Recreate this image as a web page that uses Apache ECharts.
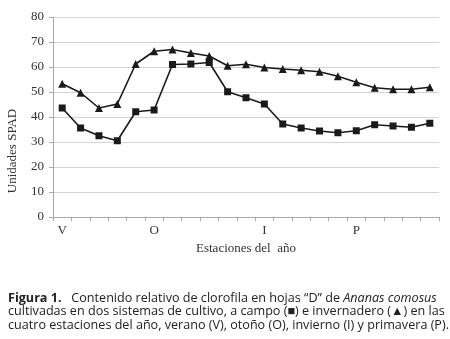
<!DOCTYPE html>
<html>
<head>
<meta charset="utf-8">
<script src="https://cdn.jsdelivr.net/npm/echarts@6/dist/echarts.min.js"></script>
<style>
  html, body { margin: 0; padding: 0; background: #fff; }
  #chart { width: 450px; height: 339px; }
</style>
</head>
<body>
<div id="chart"></div>
<script>
// 21 muestreos a lo largo del año; solo se rotula el inicio de cada estación
const seasons = ['V', '', '', '', '', 'O', '', '', '', '', '', 'I', '', '', '', '', 'P', '', '', '', ''];
// a campo (cuadrados)
const campo = [43.6, 35.6, 32.5, 30.5, 42.1, 42.8, 61.0, 61.2, 61.8, 50.1, 47.7, 45.2, 37.2, 35.6, 34.4, 33.7, 34.5, 36.9, 36.4, 35.9, 37.5];
// invernadero (triangulos)
const invernadero = [53.3, 49.7, 43.6, 45.2, 61.2, 66.3, 67.0, 65.6, 64.4, 60.5, 61.1, 59.8, 59.2, 58.7, 58.1, 56.3, 53.9, 51.7, 51.1, 51.1, 51.9];
const yTicks = [0, 80, 10];

const chart = echarts.init(document.getElementById('chart'));
const serif = 'Liberation Serif';
const sans = 'Open Sans';
const capSize = 12.6;
const capStyle = { fontFamily: sans, fontSize: capSize, fill: '#222', verticalAlign: 'middle' };

const option = {
    animation: false,
    grid: { left: 53, right: 11, top: 17, bottom: 122 },
    xAxis: {
        type: 'category',
        data: seasons,
        boundaryGap: true,
        name: 'Estaciones del  año',
        nameLocation: 'middle',
        nameGap: 24,
        nameTextStyle: { fontFamily: serif, fontSize: 13, color: '#333' },
        axisLine: { lineStyle: { color: '#aaa' } },
        axisTick: { show: true, interval: 0, length: 4, lineStyle: { color: '#aaa' } },
        axisLabel: { interval: 0, fontFamily: serif, fontSize: 13, color: '#333', margin: 7 },
        splitLine: { show: false }
    },
    yAxis: {
        type: 'value',
        min: yTicks[0],
        max: yTicks[1],
        interval: yTicks[2],
        axisLine: { show: true, lineStyle: { color: '#aaa' } },
        axisTick: { show: true, length: 4, lineStyle: { color: '#aaa' } },
        axisLabel: { fontFamily: serif, fontSize: 13, color: '#333', margin: 9 },
        splitLine: { lineStyle: { color: '#d4d4d4', width: 1 } }
    },
    series: [
        {
            name: 'invernadero',
            type: 'line',
            data: invernadero,
            symbol: 'triangle',
            symbolSize: 8,
            showAllSymbol: true,
            lineStyle: { color: '#1a1a1a', width: 1.6 },
            itemStyle: { color: '#1a1a1a' }
        },
        {
            name: 'campo',
            type: 'line',
            data: campo,
            symbol: 'rect',
            symbolSize: 7,
            showAllSymbol: true,
            lineStyle: { color: '#1a1a1a', width: 1.6 },
            itemStyle: { color: '#1a1a1a' }
        }
    ],
    graphic: [
        {
            type: 'text',
            x: 13, y: 151,
            rotation: Math.PI / 2,
            style: {
                text: 'Unidades SPAD',
                fontFamily: serif, fontSize: 13, fill: '#333',
                align: 'center', verticalAlign: 'middle'
            }
        },
        {
            type: 'text',
            x: 8, y: 298,
            style: {
                text: '{b|Figura 1.}   Contenido relativo de clorofila en hojas “D” de {i|Ananas comosus}',
                ...capStyle,
                rich: {
                    b: { fontFamily: sans, fontSize: capSize, fontWeight: 'bold', fill: '#222' },
                    i: { fontFamily: sans, fontSize: capSize, fontStyle: 'italic', fill: '#222' }
                }
            }
        },
        {
            type: 'text',
            x: 8, y: 311.5,
            style: { text: 'cultivadas en dos sistemas de cultivo, a campo (■) e invernadero (▲) en las', ...capStyle }
        },
        {
            type: 'text',
            x: 8, y: 325,
            style: { text: 'cuatro estaciones del año, verano (V), otoño (O), invierno (I) y primavera (P).', ...capStyle }
        }
    ]
};
chart.setOption(option);
</script>
</body>
</html>
